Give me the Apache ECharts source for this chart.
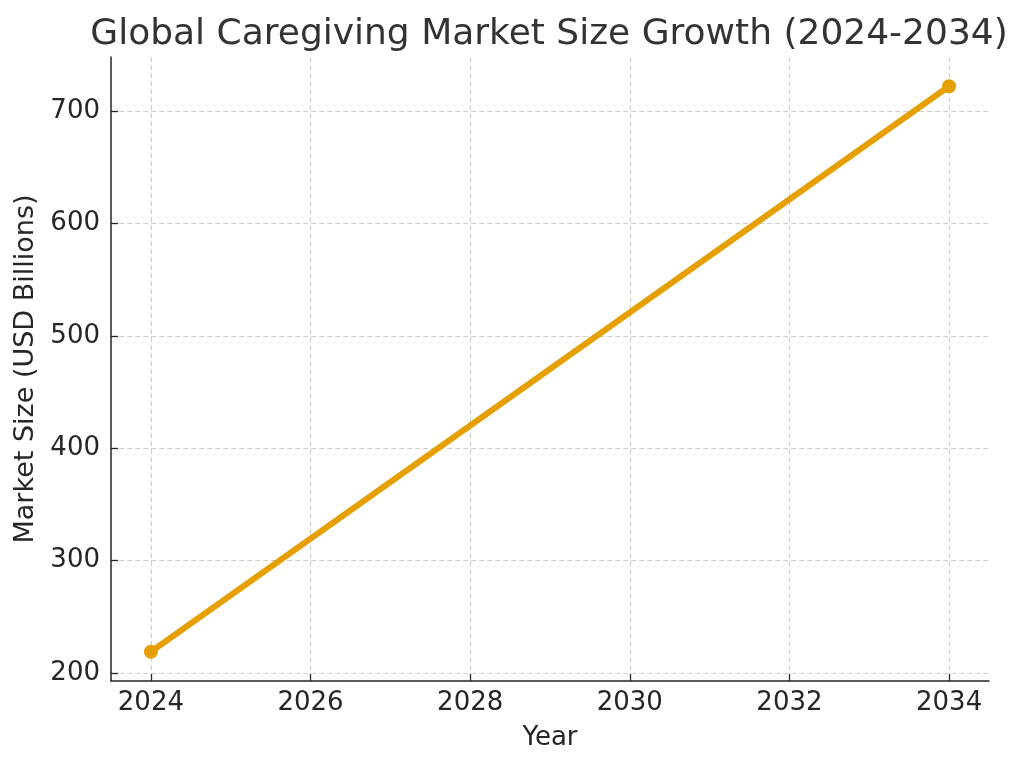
<!DOCTYPE html>
<html>
<head>
<meta charset="utf-8">
<script src="https://cdn.jsdelivr.net/npm/echarts@6/dist/echarts.min.js"></script>
<style>
  html, body { margin: 0; padding: 0; background: #fff; }
  #chart { width: 1024px; height: 766px; }
</style>
</head>
<body>
<div id="chart"></div>
<script>
"use strict";

// 数据
const YEARS = [2024, 2034];
const MARKET_SIZE = [219, 722];
const X_TICKS = [2024, 2026, 2028, 2030, 2032, 2034];
const Y_TICKS = [200, 300, 400, 500, 600, 700];

const FONT = "DejaVu Sans";
const TXT = "#262626";
const GRID_LINE = { show: true, lineStyle: { color: "#cccccc", type: [5, 3], width: 1 } };

const chart = echarts.init(document.getElementById("chart"));
chart.setOption({
  backgroundColor: "#fff",
  animation: false,
  textStyle: { fontFamily: FONT },
  title: {
    text: "Global Caregiving Market Size Growth (2024-2034)",
    left: 544, top: 12, textAlign: "center",
    textStyle: { fontFamily: FONT, fontSize: 36, fontWeight: "normal", color: "#333333" },
  },
  grid: { left: 111, right: 35, top: 57, bottom: 85 },
  xAxis: {
    type: "value", min: 2023.5, max: 2034.5,
    name: "Year", nameLocation: "middle", nameGap: 44,
    nameTextStyle: { fontFamily: FONT, fontSize: 26, color: TXT },
    axisLine: { show: true, lineStyle: { color: "#262626", width: 1.5 } },
    axisTick: { show: true, inside: true, length: 7, customValues: X_TICKS, lineStyle: { color: "#262626", width: 1.3 } },
    axisLabel: { customValues: X_TICKS, margin: 9, fontFamily: FONT, fontSize: 26, color: TXT, formatter: v => String(v) },
    splitLine: GRID_LINE,
  },
  yAxis: {
    type: "value", min: 193, max: 748,
    name: "Market Size (USD Billions)", nameLocation: "middle", nameGap: 67,
    nameTextStyle: { fontFamily: FONT, fontSize: 27, color: TXT },
    axisLine: { show: true, lineStyle: { color: "#262626", width: 1.5 } },
    axisTick: { show: true, inside: true, length: 7, customValues: Y_TICKS, lineStyle: { color: "#262626", width: 1.3 } },
    axisLabel: { customValues: Y_TICKS, margin: 11, fontFamily: FONT, fontSize: 26, color: TXT, padding: [3, 0, 0, 0] },
    splitLine: GRID_LINE,
  },
  series: [{
    type: "line",
    data: YEARS.map((y, i) => [y, MARKET_SIZE[i]]),
    symbol: "circle", symbolSize: 14,
    itemStyle: { color: "#E69F00" },
    lineStyle: { color: "#E69F00", width: 6 },
  }],
});
</script>
</body>
</html>
